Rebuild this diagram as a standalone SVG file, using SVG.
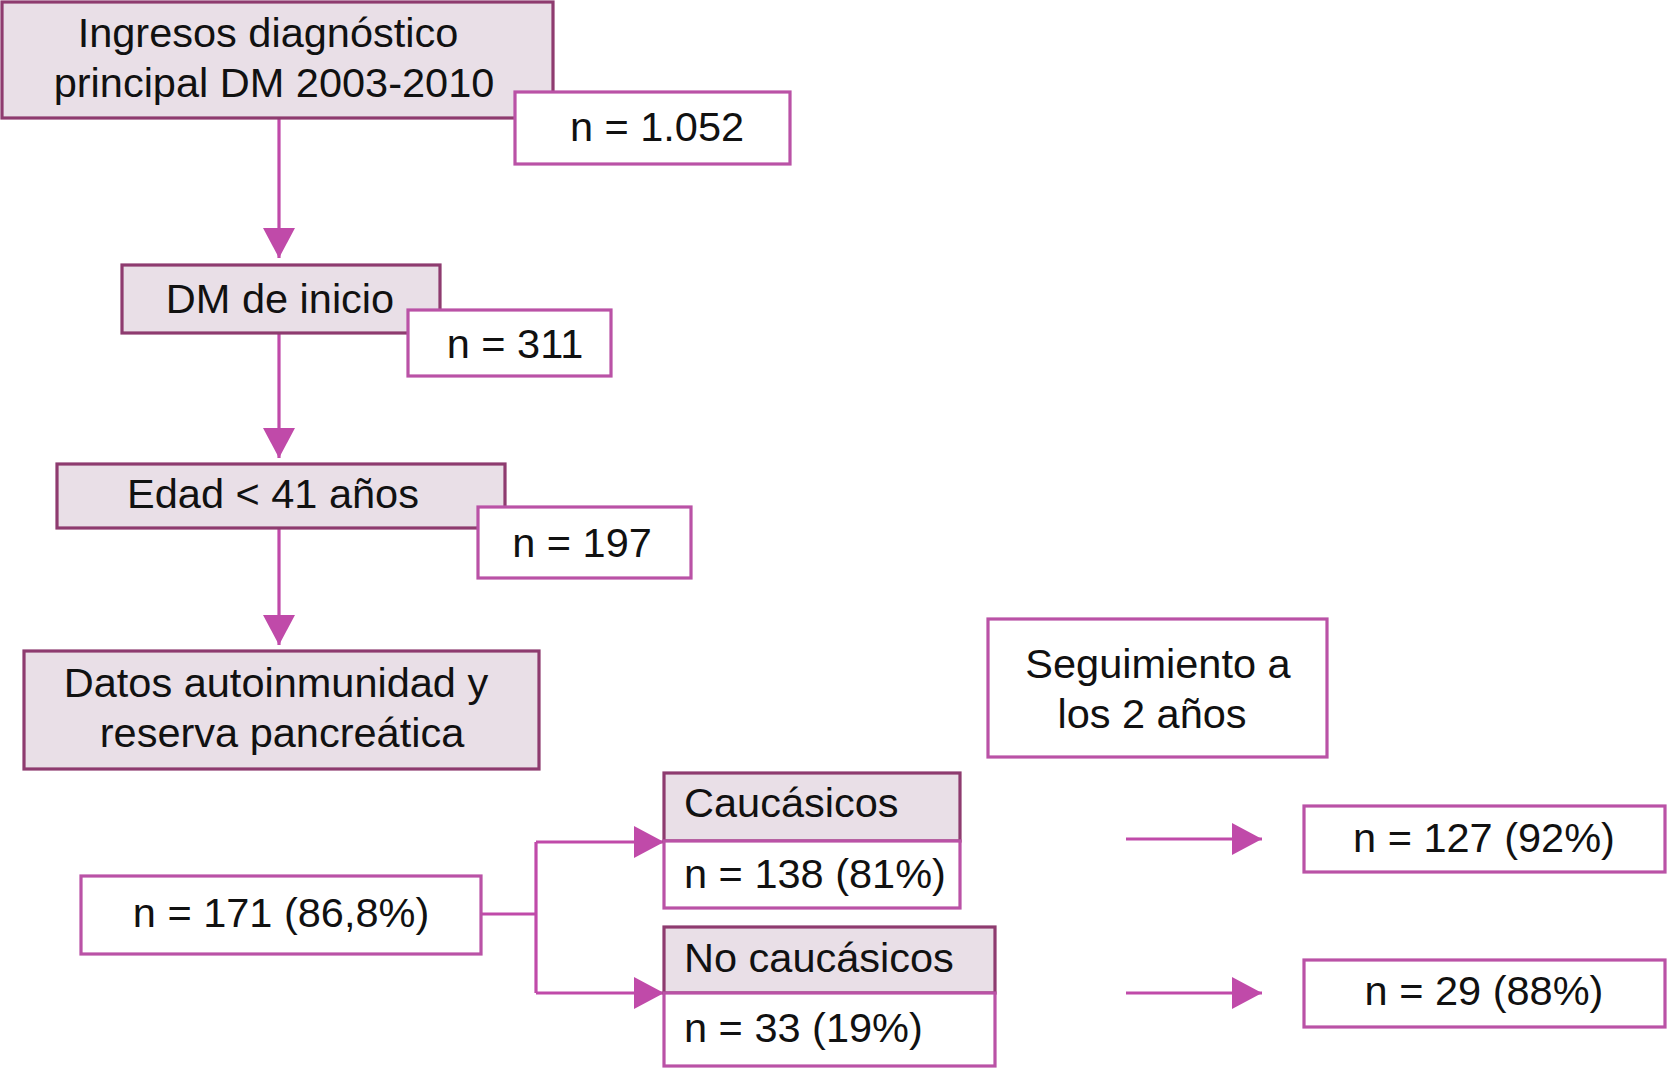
<svg xmlns="http://www.w3.org/2000/svg" width="1667" height="1069" viewBox="0 0 1667 1069">
<style>
.main{fill:#E9DFE7;stroke:#8E3B6F;stroke-width:3.2}
.cnt{fill:#FFFFFF;stroke:#BA52A6;stroke-width:3.2}
.conn{fill:none;stroke:#C04AA9;stroke-width:3.2}
text{font-family:"Liberation Sans",Arial,Helvetica,sans-serif;font-size:41.5px;fill:#111111}
.c{text-anchor:middle}
</style>
<defs>
<marker id="ah" viewBox="0 0 30 32" refX="30" refY="16" markerWidth="30" markerHeight="32" markerUnits="userSpaceOnUse" orient="auto">
<path d="M0,0 L30,16 L0,32 Z" fill="#C04AA9"/>
</marker>
</defs>
<rect width="1667" height="1069" fill="#FFFFFF"/>
<g id="connectors">
<path class="conn" d="M279,119 V258" marker-end="url(#ah)"/>
<path class="conn" d="M279,333 V458" marker-end="url(#ah)"/>
<path class="conn" d="M279,528 V645" marker-end="url(#ah)"/>
<path class="conn" d="M481,914 H536"/>
<path class="conn" d="M536,842 V993"/>
<path class="conn" d="M536,842 H664" marker-end="url(#ah)"/>
<path class="conn" d="M536,993 H664" marker-end="url(#ah)"/>
<path class="conn" d="M1126,839 H1262" marker-end="url(#ah)"/>
<path class="conn" d="M1126,993 H1262" marker-end="url(#ah)"/>
</g>
<g id="ingresos">
<rect class="main" x="2" y="2" width="551" height="116"/>
<text class="c" x="268" y="47">Ingresos diagnóstico</text>
<text class="c" x="274" y="97">principal DM 2003-2010</text>
</g>
<g id="n1052">
<rect class="cnt" x="515" y="92" width="275" height="72"/>
<text class="c" x="657" y="141">n = 1.052</text>
</g>
<g id="dm-inicio">
<rect class="main" x="122" y="265" width="318" height="68"/>
<text class="c" x="280" y="313">DM de inicio</text>
</g>
<g id="n311">
<rect class="cnt" x="408" y="310" width="203" height="66"/>
<text class="c" x="515" y="358">n = 311</text>
</g>
<g id="edad">
<rect class="main" x="57" y="464" width="448" height="64"/>
<text class="c" x="273" y="508">Edad &lt; 41 años</text>
</g>
<g id="n197">
<rect class="cnt" x="478" y="507" width="213" height="71"/>
<text class="c" x="582" y="557">n = 197</text>
</g>
<g id="datos">
<rect class="main" x="24" y="651" width="515" height="118"/>
<text class="c" x="276" y="697">Datos autoinmunidad y</text>
<text class="c" x="282" y="747">reserva pancreática</text>
</g>
<g id="n171">
<rect class="cnt" x="81" y="876" width="400" height="78"/>
<text class="c" x="281" y="927">n = 171 (86,8%)</text>
</g>
<g id="caucasicos">
<rect class="main" x="664" y="773" width="296" height="68"/>
<text x="684" y="817">Caucásicos</text>
</g>
<g id="n138">
<rect class="cnt" x="664" y="841" width="296" height="67"/>
<text x="684" y="888">n = 138 (81%)</text>
</g>
<g id="no-caucasicos">
<rect class="main" x="664" y="927" width="331" height="66"/>
<text x="684" y="972">No caucásicos</text>
</g>
<g id="n33">
<rect class="cnt" x="664" y="993" width="331" height="73"/>
<text x="684" y="1042">n = 33 (19%)</text>
</g>
<g id="seguimiento">
<rect class="cnt" x="988" y="619" width="339" height="138"/>
<text class="c" x="1158" y="678">Seguimiento a</text>
<text class="c" x="1152" y="728">los 2 años</text>
</g>
<g id="n127">
<rect class="cnt" x="1304" y="806" width="361" height="66"/>
<text class="c" x="1484" y="852">n = 127 (92%)</text>
</g>
<g id="n29">
<rect class="cnt" x="1304" y="960" width="361" height="67"/>
<text class="c" x="1484" y="1005">n = 29 (88%)</text>
</g>
</svg>
